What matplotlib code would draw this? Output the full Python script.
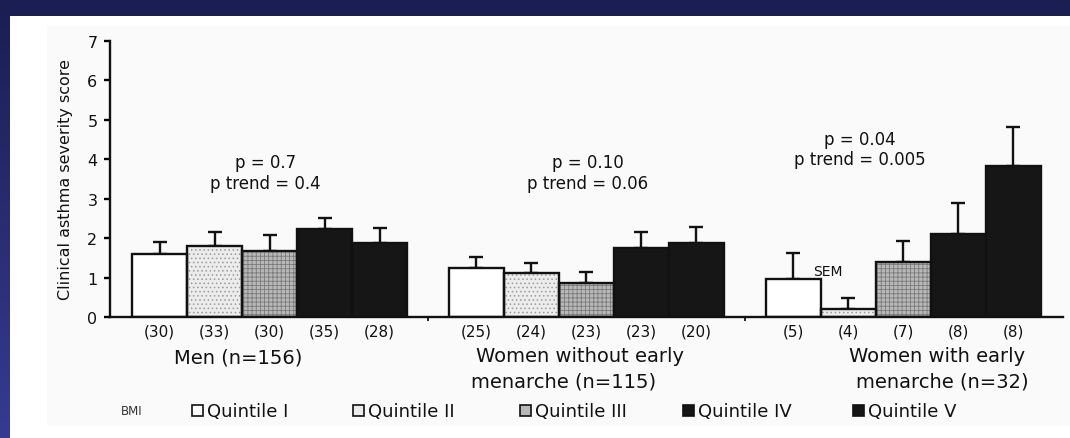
import numpy as np
import matplotlib
matplotlib.use("Agg")
import matplotlib.pyplot as plt
from matplotlib.patches import Rectangle

# ---------------- data ----------------
groups = ["Men (n=156)", "Women without early\nmenarche (n=115)", "Women with early\nmenarche (n=32)"]
quintiles = ["Quintile I", "Quintile II", "Quintile III", "Quintile IV", "Quintile V"]
men_vals = [1.60, 1.80, 1.68, 2.23, 1.88]
men_sem = [0.30, 0.35, 0.40, 0.27, 0.38]
ww_vals = [1.24, 1.12, 0.86, 1.75, 1.88]
ww_sem = [0.28, 0.25, 0.28, 0.40, 0.40]
we_vals = [0.96, 0.20, 1.40, 2.10, 3.83]
we_sem = [0.66, 0.28, 0.53, 0.80, 0.99]
men_n = ["(30)", "(33)", "(30)", "(35)", "(28)"]
ww_n = ["(25)", "(24)", "(23)", "(23)", "(20)"]
we_n = ["(5)", "(4)", "(7)", "(8)", "(8)"]
p_texts = ["p = 0.7\np trend = 0.4", "p = 0.10\np trend = 0.06", "p = 0.04\np trend = 0.005"]
yticks = [0, 1, 2, 3, 4, 5, 6, 7]
ylabel = "Clinical asthma severity score"

values = [men_vals, ww_vals, we_vals]
sems = [men_sem, ww_sem, we_sem]
counts = [men_n, ww_n, we_n]

# ---------------- styles / layout ----------------
FONT = "DejaVu Sans"
plt.rcParams["font.family"] = [FONT]
plt.rcParams["hatch.linewidth"] = 0.6
TXT = "#111111"
W, H = 1070, 439
faces = ["#ffffff", "#ececec", "#b8b8b8", "#161616", "#161616"]
hatches = [None, "....", "++++", None, None]
hatch_cols = ["#ffffff", "#9a9a9a", "#7a7a7a", "#161616", "#161616"]
group_start = [0.9, 6.66, 12.42]
p_pos = [(2.82, 3.67), (8.69, 3.67), (13.64, 4.26)]

fig = plt.figure(figsize=(W / 100, H / 100), dpi=100)
fig.patch.set_facecolor("#1c1f55")

# background (slide)
bg = fig.add_axes([0, 0, 1, 1], zorder=-10)
bg.set_xlim(0, W)
bg.set_ylim(H, 0)
bg.axis("off")
grad = np.linspace(0, 1, 256).reshape(-1, 1)
top_c = np.array([0x1b, 0x1e, 0x52]) / 255
bot_c = np.array([0x35, 0x3b, 0x92]) / 255
img = top_c[None, None, :] * (1 - grad[:, :, None]) + bot_c[None, None, :] * grad[:, :, None]
bg.imshow(img, extent=[0, W, H, 0], aspect="auto")
bg.add_patch(Rectangle((10, 17), W - 10, H - 17, facecolor="white", edgecolor="none"))
bg.add_patch(Rectangle((47, 27), W - 47, 400, facecolor="#fafafa", edgecolor="none"))

ax = fig.add_axes([110 / W, 121 / H, 953 / W, 276 / H])
ax.set_facecolor("none")
ax.set_xlim(0, 953 / 55)
ax.set_ylim(0, 7)

for g in range(3):
    xs = [group_start[g] + i for i in range(5)]
    for i in range(5):
        ax.bar(xs[i], values[g][i], width=1.0, color=faces[i], hatch=hatches[i],
               edgecolor=hatch_cols[i], linewidth=0, zorder=2)
    ax.bar(xs, values[g], width=1.0, fill=False, edgecolor="#111111", linewidth=1.7, zorder=3)
    ax.errorbar(xs, values[g], yerr=[[0] * 5, sems[g]], fmt="none", ecolor="#111111",
                elinewidth=1.7, capsize=5, capthick=1.7, zorder=1)
    for i in range(5):
        ax.text(xs[i], -0.05, counts[g][i], transform=ax.get_xaxis_transform(),
                ha="center", va="center", fontsize=11, color=TXT)
    ax.text(p_pos[g][0], p_pos[g][1], p_texts[g], ha="center", va="center",
            fontsize=12, color=TXT, linespacing=1.2)

# group labels
xt = ax.get_xaxis_transform()
ax.text(2.33, -0.145, "Men (n=156)", transform=xt, ha="center", va="center",
        fontsize=14, color=TXT)
l1, l2 = groups[1].split("\n")
ax.text(8.545, -0.141, l1, transform=xt, ha="center", va="center", fontsize=14, color=TXT)
ax.text(8.25, -0.232, l2, transform=xt, ha="center", va="center", fontsize=14, color=TXT)
l1, l2 = groups[2].split("\n")
ax.text(15.04, -0.141, l1, transform=xt, ha="center", va="center", fontsize=14, color=TXT)
ax.text(15.13, -0.232, l2, transform=xt, ha="center", va="center", fontsize=14, color=TXT)

ax.text(13.05, 1.17, "SEM", ha="center", va="center", fontsize=10, color=TXT)

# axes styling
for s in ["top", "right"]:
    ax.spines[s].set_visible(False)
for s in ["left", "bottom"]:
    ax.spines[s].set_linewidth(1.7)
    ax.spines[s].set_color("#111111")
ax.set_yticks(yticks)
ax.set_yticklabels([str(t) for t in yticks], fontsize=11.5, color=TXT)
ax.tick_params(axis="y", length=4, width=1.7, pad=5)
mids = [(group_start[0] + 4.5 + group_start[1] - 0.5) / 2,
        (group_start[1] + 4.5 + group_start[2] - 0.5) / 2]
ax.set_xticks(mids)
ax.set_xticklabels([])
ax.tick_params(axis="x", length=3, width=1.2)
ax.set_ylabel(ylabel, fontsize=11.5, color=TXT)
ax.yaxis.set_label_coords(-0.039, 0.5)

# legend (manual)
fy = 412
fig.text(132 / W, 1 - fy / H, "BMI", ha="center", va="center", fontsize=8.5, color="#333333")
box_x = [192, 353, 520, 683, 853]
for i in range(5):
    bg.add_patch(Rectangle((box_x[i], fy - 5.5), 11, 11, facecolor=faces[i],
                           edgecolor="#111111", linewidth=1.2, zorder=5))
    fig.text((box_x[i] + 15) / W, 1 - fy / H, quintiles[i], ha="left", va="center",
             fontsize=13, color=TXT)

fig.savefig("out.png", dpi=100, facecolor=fig.get_facecolor())
